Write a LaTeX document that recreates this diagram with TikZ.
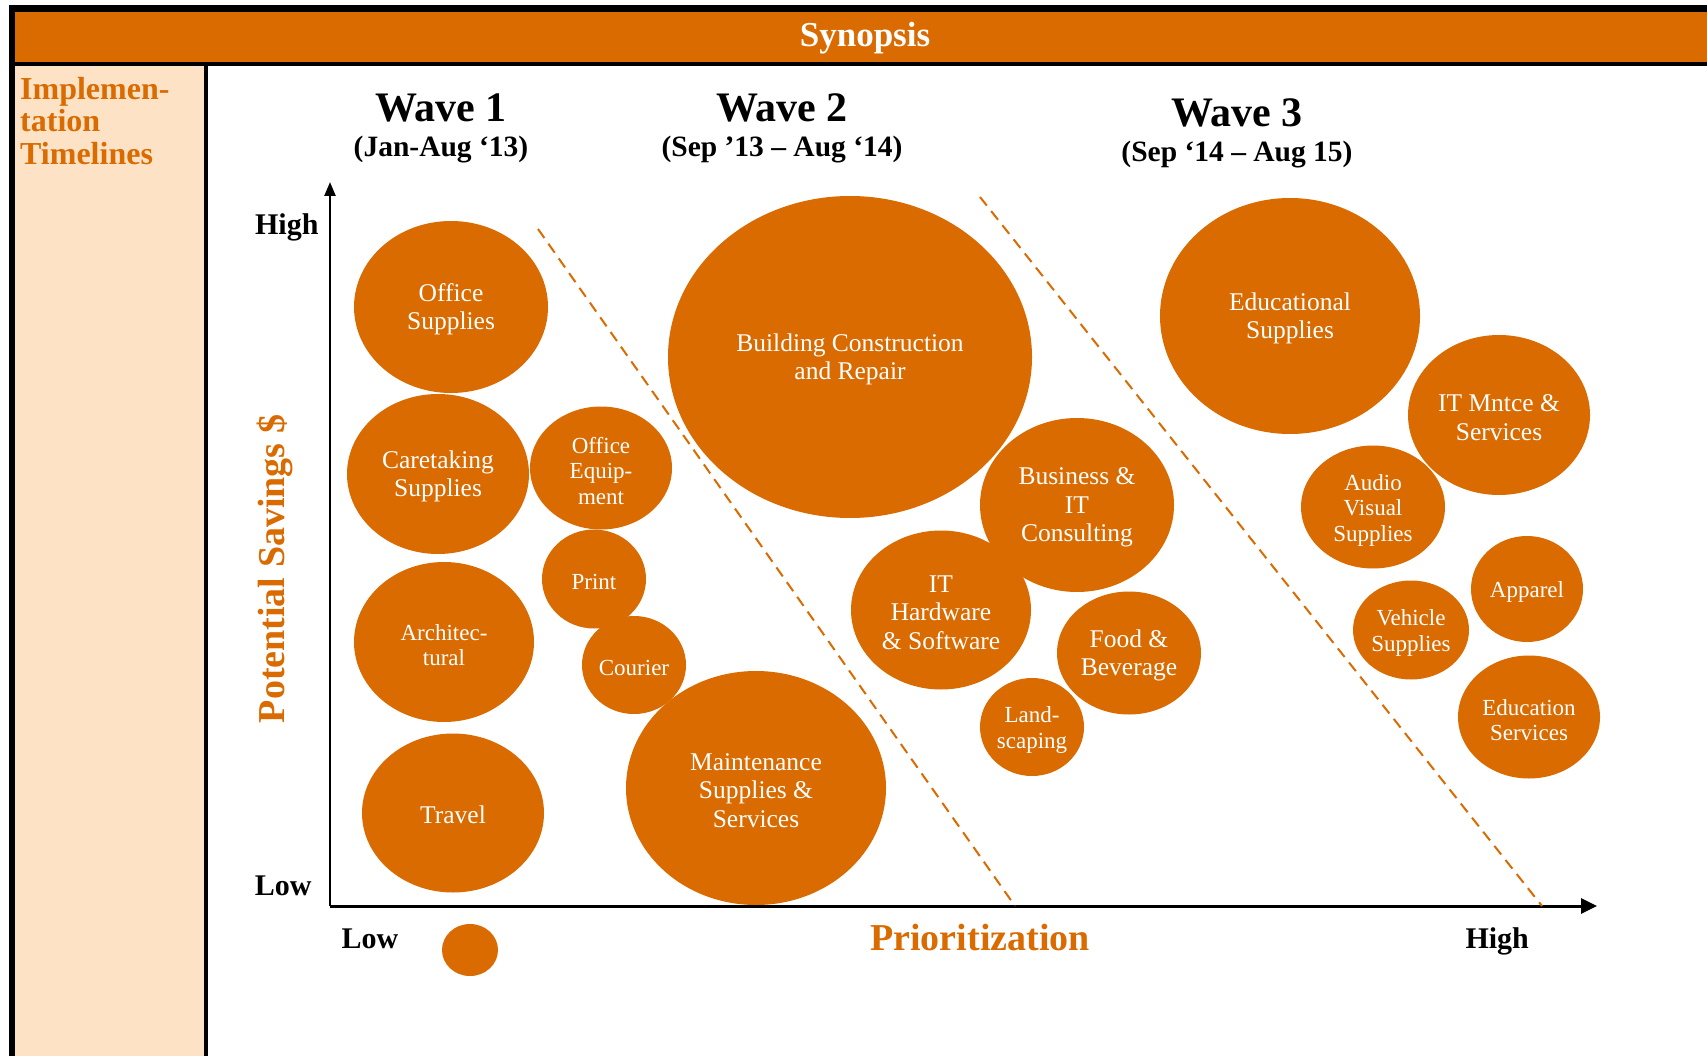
\documentclass[tikz,border=0pt]{standalone}
\usepackage{fontspec}
\setmainfont{Liberation Serif}
\usetikzlibrary{shapes.geometric,arrows.meta}
\definecolor{brand}{HTML}{D96B00}
\definecolor{peach}{HTML}{FDE2C6}

% invisible strut that lowers bubble labels slightly within their ellipses
\newcommand\bubstrut{\rule{0pt}{22pt}}

\tikzset{
  bubble/.style={ellipse, fill=brand, text=white, inner sep=0pt, align=center,
                 font=\fontsize{25.5}{28.5}\selectfont},
  bubblesm/.style={bubble, font=\fontsize{23}{25.5}\selectfont},
  bsize/.style 2 args={minimum width=#1pt, minimum height=#2pt},
  wavetitle/.style={anchor=base, font=\bfseries\fontsize{42}{46}\selectfont},
  wavedate/.style={anchor=base, font=\bfseries\fontsize{29.5}{33}\selectfont},
  axislabel/.style={font=\bfseries\fontsize{30}{34}\selectfont},
  axistitle/.style={text=brand, font=\bfseries\fontsize{38}{42}\selectfont},
  divider/.style={draw=brand, line width=2pt, dash pattern=on 11pt off 7pt},
}

\begin{document}
\begin{tikzpicture}[x=1pt,y=-1pt]
  \path[use as bounding box, fill=white] (0,0) rectangle (1707,1056);

  % frame: side panel, header bar and rules
  \fill[peach] (14,66) rectangle (204,1056);
  \fill[black] (9,5) rectangle (1707,12);
  \fill[black] (9,5) rectangle (15,1056);
  \fill[brand] (15,12) rectangle (1707,62);
  \fill[black] (15,62) rectangle (1707,66);
  \fill[black] (204,66) rectangle (208,1056);

  \node[anchor=base, text=white, font=\bfseries\fontsize{35}{38}\selectfont] (synopsis) at (865,47) {Synopsis};
  \node[anchor=north west, inner sep=0pt, align=left, text=brand,
        font=\bfseries\fontsize{32}{32.5}\selectfont] (timelines) at (20,77)
        {Implemen-\\tation\\Timelines};

  % wave headings
  \node[wavetitle] (w1) at (441,122) {Wave 1};
  \node[wavedate]  (d1) at (441,157) {(Jan-Aug ‘13)};
  \node[wavetitle] (w2) at (782,122) {Wave 2};
  \node[wavedate]  (d2) at (782,157) {(Sep ’13 – Aug ‘14)};
  \node[wavetitle] (w3) at (1237,127) {Wave 3};
  \node[wavedate]  (d3) at (1237,162) {(Sep ‘14 – Aug 15)};

  % axes
  \coordinate (origin) at (330,906);
  \coordinate (ytop) at (330,182);
  \coordinate (xend) at (1597,906);
  \draw[line width=2.5pt, -{Triangle[length=14pt,width=11pt]}] (origin) -- (ytop);
  \draw[line width=3pt, -{Triangle[length=16pt,width=15pt]}] (origin) -- (xend);

  \node[axislabel, anchor=base east] (yhigh) at (322,235) {High};
  \node[axislabel, anchor=base east] (ylow) at (315,895) {Low};
  \node[axislabel, anchor=base west] (xlow) at (338,948) {Low};
  \node[axislabel, anchor=base west] (xhigh) at (1462,948) {High};
  \node[axistitle, anchor=base] (xtitle) at (980,950) {Prioritization};
  \node[axistitle, anchor=base, rotate=90] (ytitle) at (284,569) {Potential Savings \$};
  \node[bubble, bsize={56}{52}] (legend) at (470,950) {};

  % wave dividers
  \coordinate (d1a) at (538,229);
  \coordinate (d1b) at (1015,906);
  \coordinate (d2a) at (980,197);
  \coordinate (d2b) at (1542,906);
  \draw[divider] (d1a) -- (d1b);
  \draw[divider] (d2a) -- (d2b);

  % wave 1
  \node[bubble, bsize={194}{172}] (office) at (451,307) {\bubstrut Office\\Supplies};
  \node[bubble, bsize={182}{160}] (caretaking) at (438,474) {\bubstrut Caretaking\\Supplies};
  \node[bubblesm, bsize={180}{160}] (architectural) at (444,642) {\bubstrut Architec-\\tural};
  \node[bubble, bsize={182}{159}] (travel) at (453,813) {\bubstrut Travel};
  \node[bubblesm, bsize={142}{123}] (officeeq) at (601,468) {\bubstrut Office\\Equip-\\ment};
  \node[bubblesm, bsize={104}{99}] (print) at (594,579) {\bubstrut Print};
  \node[bubblesm, bsize={104}{98}] (courier) at (634,665) {\bubstrut Courier};
  \node[bubble, bsize={260}{234}] (maintenance) at (756,788) {\bubstrut Maintenance\\Supplies \&\\Services};

  % wave 2
  \node[bubble, bsize={364}{322}] (building) at (850,357) {\bubstrut Building Construction\\and Repair};
  \node[bubble, bsize={194}{174}] (business) at (1077,505) {\bubstrut Business \&\\IT\\Consulting};
  \node[bubble, bsize={180}{159}] (ithardware) at (941,610) {\bubstrut IT\\Hardware\\\& Software};
  \node[bubble, bsize={144}{123}] (food) at (1129,653) {\bubstrut Food \&\\Beverage};
  \node[bubblesm, bsize={104}{98}] (landscaping) at (1032,727) {\bubstrut Land-\\scaping};

  % wave 3
  \node[bubble, bsize={260}{236}] (educational) at (1290,316) {\bubstrut Educational\\Supplies};
  \node[bubble, bsize={182}{160}] (itmntce) at (1499,415) {\bubstrut IT Mntce \&\\Services};
  \node[bubblesm, bsize={144}{123}] (audio) at (1373,507) {\bubstrut Audio\\Visual\\Supplies};
  \node[bubblesm, bsize={112}{106}] (apparel) at (1527,589) {\bubstrut Apparel};
  \node[bubblesm, bsize={116}{99}] (vehicle) at (1411,630) {\bubstrut Vehicle\\Supplies};
  \node[bubblesm, bsize={142}{123}] (eduserv) at (1529,717) {\bubstrut Education\\Services};
\end{tikzpicture}
\end{document}
